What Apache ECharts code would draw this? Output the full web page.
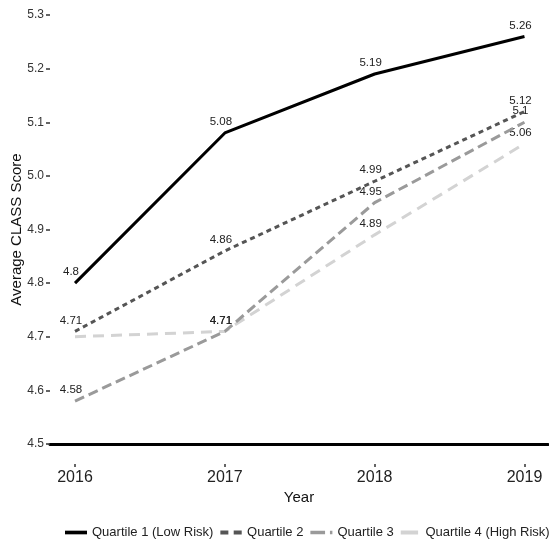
<!DOCTYPE html>
<html>
<head>
<meta charset="utf-8">
<script src="https://cdn.jsdelivr.net/npm/echarts@6/dist/echarts.min.js"></script>
<style>html,body{margin:0;padding:0;background:#fff}#c{width:549px;height:546px}</style>
</head>
<body>
<div id="c"></div>
<script>
const years = [2016, 2017, 2018, 2019];
const seriesNames = ['Quartile 1 (Low Risk)', 'Quartile 2', 'Quartile 3', 'Quartile 4 (High Risk)'];
const q1 = [4.8, 5.08, 5.19, 5.26];
const q2 = [4.71, 4.86, 4.99, 5.12];
const q3 = [4.58, 4.71, 4.95, 5.1];
const q4 = [4.7, 4.71, 4.89, 5.06];
const q4HiddenLabelIndex = [0];

const styles = [
  {color: '#000000', width: 3, type: 'solid'},
  {color: '#555555', width: 3, type: [5, 4]},
  {color: '#9a9a9a', width: 3, type: [10, 5]},
  {color: '#d3d3d3', width: 3, type: [11, 7]}
];
const legendIcons = [
  'path://M0,0h18v3h-18z',
  'path://M0,0h6v3h-6z M10,0h6v3h-6z',
  'path://M0,0h12v3h-12z M16,0h2v3h-2z',
  'path://M0,0h13v3h-13z'
];
const values = [q1, q2, q3, q4];
const FONT = 'Liberation Sans, Arial, sans-serif';
const XMIN = 2015.833, XMAX = 2019.157;

const chart = echarts.init(document.getElementById('c'), null, {renderer: 'canvas'});
const series = values.map((vals, i) => ({
  name: seriesNames[i],
  type: 'line',
  xAxisIndex: 0,
  data: vals.map((v, j) => [years[j], v]),
  symbol: 'circle',
  symbolSize: 0,
  showSymbol: true,
  lineStyle: styles[i],
  itemStyle: {color: styles[i].color},
  z: 10 - i,
  label: {
    show: true,
    position: 'top',
    distance: 5,
    offset: [-4, 0],
    fontFamily: FONT,
    fontSize: 11.5,
    color: '#222',
    formatter: p => (i === 3 && q4HiddenLabelIndex.includes(p.dataIndex)) ? '' : String(p.value[1])
  },
  emphasis: {disabled: true}
}));

chart.setOption({
  animation: false,
  backgroundColor: '#fff',
  textStyle: {fontFamily: FONT},
  grid: {left: 50, right: 1, top: 15, bottom: 102, containLabel: false, outerBoundsMode: 'none'},
  legend: {
    top: 521,
    left: 60,
    width: 540,
    itemWidth: 22,
    itemHeight: 4,
    itemGap: 7,
    textStyle: {fontFamily: FONT, fontSize: 13, color: '#222'},
    data: seriesNames.map((n, i) => ({name: n, icon: legendIcons[i]}))
  },
  xAxis: [
    {
      type: 'value', min: XMIN, max: XMAX,
      axisLine: {show: true, lineStyle: {color: '#000', width: 3}},
      axisTick: {show: false}, axisLabel: {show: false}, splitLine: {show: false}
    },
    {
      type: 'value', min: XMIN, max: XMAX, position: 'bottom', offset: 20,
      axisLine: {show: false},
      axisTick: {show: true, length: 3, customValues: years, lineStyle: {color: '#333', width: 1.5}},
      axisLabel: {show: true, customValues: years, margin: 6, fontSize: 16, color: '#222', fontFamily: FONT, formatter: v => String(v)},
      splitLine: {show: false},
      name: 'Year', nameLocation: 'middle', nameGap: 26, nameMoveOverlap: false,
      nameTextStyle: {fontSize: 15, color: '#111', fontFamily: FONT}
    }
  ],
  yAxis: {
    type: 'value', min: 4.5, max: 5.3, interval: 0.1,
    axisLine: {show: false},
    axisTick: {show: true, length: 4, lineStyle: {color: '#333', width: 1.5}},
    axisLabel: {fontSize: 12, color: '#333', fontFamily: FONT, margin: 6, formatter: v => v.toFixed(1)},
    splitLine: {show: false},
    name: 'Average CLASS Score', nameLocation: 'middle', nameGap: 26, nameRotate: 90, nameMoveOverlap: false,
    nameTextStyle: {fontSize: 15, color: '#111', fontFamily: FONT}
  },
  series: series
});
</script>
</body>
</html>
